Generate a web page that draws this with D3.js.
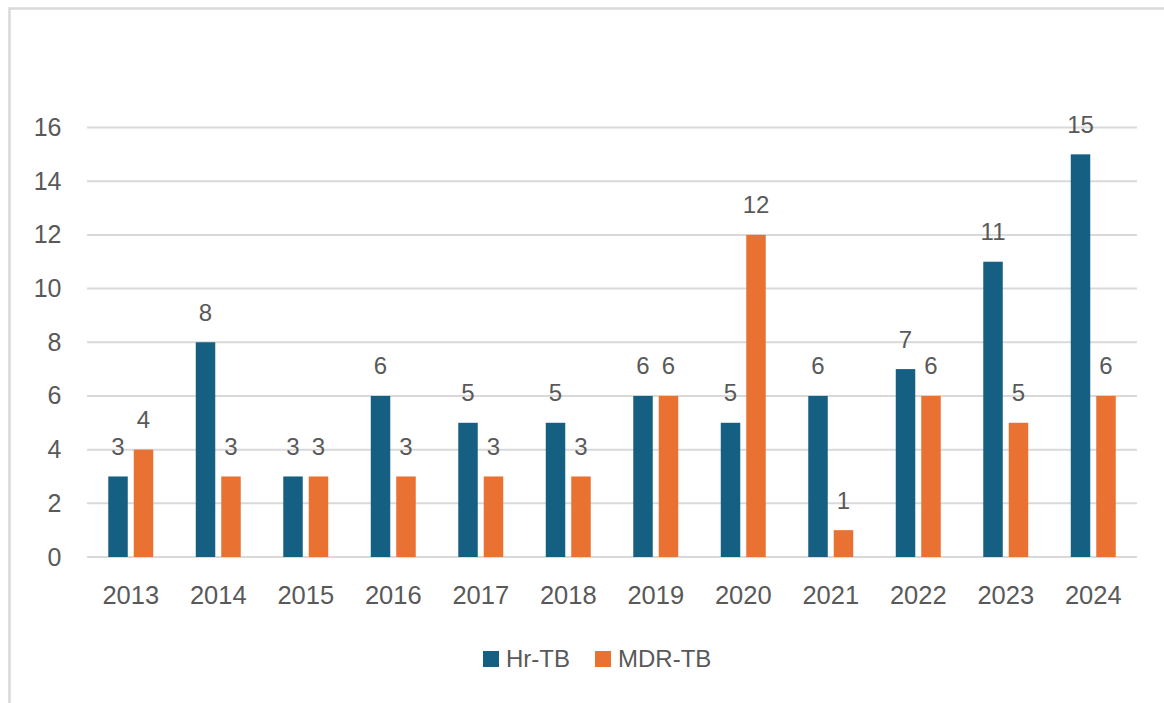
<!DOCTYPE html>
<html>
<head>
<meta charset="utf-8">
<script src="https://cdn.jsdelivr.net/npm/d3@7"></script>
<style>
  html, body { margin: 0; padding: 0; background: #ffffff; }
  svg { display: block; font-family: "Liberation Sans", Arial, sans-serif; }
</style>
</head>
<body>
<svg id="chart" width="1164" height="703"></svg>
<script>
const years = ["2013","2014","2015","2016","2017","2018","2019","2020","2021","2022","2023","2024"];
const seriesNames = ["Hr-TB", "MDR-TB"];
const hrTB = [3, 8, 3, 6, 5, 5, 6, 5, 6, 7, 11, 15];
const mdrTB = [4, 3, 3, 3, 3, 3, 6, 12, 1, 6, 5, 6];
const yTicks = [0, 2, 4, 6, 8, 10, 12, 14, 16];
const colors = ["#156082", "#E97132"];

const textColor = "#595959";
const gridColor = "#d9d9d9";

const svg = d3.select("#chart");

// frame
svg.append("rect")
  .attr("x", 9.5).attr("y", 8.5)
  .attr("width", 1170).attr("height", 720)
  .attr("fill", "#ffffff")
  .attr("stroke", "#d9d9d9").attr("stroke-width", 2.5);

const left = 87, right = 1137, baseY = 557, topY = 127.5;

const y = d3.scaleLinear().domain([0, 16]).range([baseY, topY]);

const pi = 0.486;
const x0 = d3.scaleBand().domain(years).range([left, right])
  .paddingInner(pi).paddingOuter(pi / 2);
const x1 = d3.scaleBand().domain(seriesNames).range([0, x0.bandwidth()])
  .paddingInner(0.235).paddingOuter(0);

// gridlines
svg.append("g").selectAll("line")
  .data(yTicks)
  .join("line")
  .attr("x1", left).attr("x2", right)
  .attr("y1", d => y(d)).attr("y2", d => y(d))
  .attr("stroke", gridColor).attr("stroke-width", 2);

// y axis labels
const yAxis = d3.axisLeft(y).tickValues(yTicks).tickSize(0).tickPadding(0);
const gy = svg.append("g").attr("transform", `translate(${left - 25.5},0)`).call(yAxis);
gy.select(".domain").remove();
gy.selectAll("text")
  .attr("fill", textColor)
  .attr("font-size", 25)
  .attr("font-family", "Liberation Sans, Arial, sans-serif");

// x axis labels
const xAxis = d3.axisBottom(x0).tickSize(0).tickPadding(0);
const gx = svg.append("g").attr("transform", `translate(0,${baseY})`).call(xAxis);
gx.select(".domain").remove();
gx.selectAll("text")
  .attr("fill", textColor)
  .attr("font-size", 25.5)
  .attr("dy", null)
  .attr("y", 47)
  .attr("font-family", "Liberation Sans, Arial, sans-serif");

// bars
const data = years.map((yr, i) => ({ year: yr, values: [hrTB[i], mdrTB[i]] }));
const groups = svg.append("g").selectAll("g")
  .data(data)
  .join("g")
  .attr("transform", d => `translate(${x0(d.year)},0)`);

groups.selectAll("rect")
  .data(d => d.values.map((v, k) => ({ key: seriesNames[k], value: v, k })))
  .join("rect")
  .attr("x", d => x1(d.key))
  .attr("width", x1.bandwidth())
  .attr("y", d => y(d.value))
  .attr("height", d => baseY - y(d.value))
  .attr("fill", d => colors[d.k]);

groups.selectAll("text")
  .data(d => d.values.map((v, k) => ({ key: seriesNames[k], value: v, k })))
  .join("text")
  .attr("x", d => x1(d.key) + x1.bandwidth() / 2)
  .attr("y", d => y(d.value) - 21.5)
  .attr("text-anchor", "middle")
  .attr("fill", textColor)
  .attr("font-size", 24)
  .text(d => d.value);

// legend
const legendItems = [
  { name: seriesNames[0], color: colors[0], x: 483 },
  { name: seriesNames[1], color: colors[1], x: 595 }
];
const lg = svg.append("g");
legendItems.forEach(it => {
  lg.append("rect")
    .attr("x", it.x).attr("y", 651)
    .attr("width", 16).attr("height", 16)
    .attr("fill", it.color);
  lg.append("text")
    .attr("x", it.x + 23).attr("y", 667)
    .attr("fill", textColor)
    .attr("font-size", 24)
    .text(it.name);
});
</script>
</body>
</html>
